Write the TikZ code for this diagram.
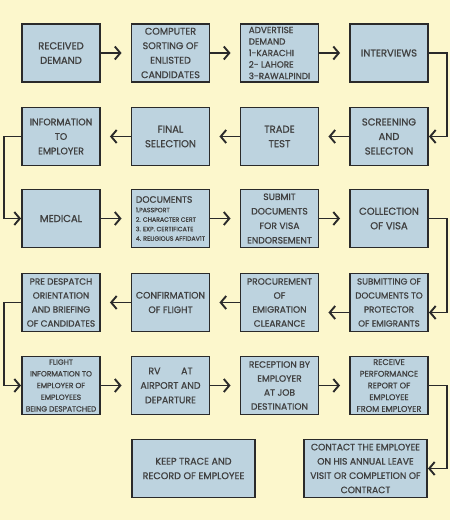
\documentclass[tikz,border=0pt]{standalone}
\usepackage{fontspec}
\setmainfont{Poppins}[FakeBold=0.9]
\usetikzlibrary{arrows.meta}
\definecolor{bgcol}{HTML}{FCF7CC}
\definecolor{boxcol}{HTML}{BDD3DF}
\definecolor{bordercol}{HTML}{2A2A2A}
\definecolor{textcol}{HTML}{404040}
\newcommand{\fs}[2]{\fontsize{#1}{#2}\selectfont}
\begin{document}
\begin{tikzpicture}[x=1pt,y=-1pt,
  box/.style={draw=bordercol, line width=1.9pt, fill=boxcol, minimum width=78pt,
    minimum height=58pt, align=center, inner sep=1pt, text=textcol, font=\fs{10}{14.5}},
  widebox/.style={box, minimum width=123pt},
  arr/.style={draw=bordercol, line width=1.7pt, -{Straight Barb[length=5.5pt,width=13pt,line width=1.9pt]}},
  harr/.style={arr, shorten >=9pt}]
\fill[bgcol] (0,0) rectangle (450,520);
\useasboundingbox (0,0) rectangle (450,520);
\coordinate (r) at (447,0);
\coordinate (l) at (4,0);
% row 1
\node[box] (n11) at (61,53) {RECEIVED\\DEMAND};
\node[box, font=\fs{9.6}{14.5}] (n12) at (170.5,53) {COMPUTER\\SORTING OF\\ENLISTED\\CANDIDATES};
\node[box, align=left, font=\fs{8.8}{11.5}] (n13) at (279.5,53) {ADVERTISE\\DEMAND\\1-KARACHI\\2- LAHORE\\3-RAWALPINDI};
\node[box] (n14) at (389,53) {INTERVIEWS};
% row 2
\node[box, font=\fs{9.4}{14.5}] (n21) at (61,136.5) {INFORMATION\\TO\\EMPLOYER};
\node[box] (n22) at (170.5,136.5) {FINAL\\SELECTION};
\node[box] (n23) at (279.5,136.5) {TRADE\\TEST};
\node[box] (n24) at (389,136.5) {SCREENING\\AND\\SELECTON};
% row 3
\node[box] (n31) at (61,218.5) {MEDICAL};
\node[box, align=left, font=\fs{6.2}{9.5}] (n32) at (170.5,218.5) {{\fs{9.2}{11}DOCUMENTS}\\1.PASSPORT\\2. CHARACTER CERT\\3. EXP. CERTIFICATE\\4. RELIGIOUS AFFIDAV1T};
\node[box, font=\fs{9.2}{14.5}] (n33) at (279.5,218.5) {SUBMIT\\DOCUMENTS\\FOR VISA\\ENDORSEMENT};
\node[box] (n34) at (389,218.5) {COLLECTION\\OF VISA};
% row 4
\node[box, font=\fs{8.9}{14}] (n41) at (61,302.5) {PRE DESPATCH\\ORIENTATION\\AND BRIEFING\\OF CANDIDATES};
\node[box, font=\fs{9.3}{14.5}] (n42) at (170.5,302.5) {CONFIRMATION\\OF FLIGHT};
\node[box, font=\fs{9.1}{14}] (n43) at (279.5,302.5) {PROCUREMENT\\OF\\EMIGRATION\\CLEARANCE};
\node[box, font=\fs{8.7}{14}] (n44) at (389,302.5) {SUBMITTING OF\\DOCUMENTS TO\\PROTECTOR\\OF EMIGRANTS};
% row 5
\node[box, font=\fs{7.5}{11.7}] (n51) at (61,385.5) {FLIGHT\\INFORMATION TO\\EMPLOYER OF\\EMPLOYEES\\BEING DESPATCHED};
\node[box, font=\fs{9.4}{14.5}] (n52) at (170.5,385.5) {RV\hspace{2.2em}AT\\AIRPORT AND\\DEPARTURE};
\node[box, font=\fs{9.1}{14}] (n53) at (279.5,385.5) {RECEPTION BY\\EMPLOYER\\AT JOB\\DESTINATION};
\node[box, font=\fs{8.2}{11.7}] (n54) at (389,385.5) {RECEIVE\\PERFORMANCE\\REPORT OF\\EMPLOYEE\\FROM EMPLOYER};
% row 6
\node[widebox, font=\fs{9.6}{14.5}] (n61) at (193.5,468.5) {KEEP TRACE AND\\RECORD OF EMPLOYEE};
\node[widebox, font=\fs{9.2}{14.3}] (n62) at (365.5,468.5) {CONTACT THE EMPLOYEE\\ON HIS ANNUAL LEAVE\\VISIT OR COMPLETION OF\\CONTRACT};
% connectors
\draw[harr] (n11) -- (n12);
\draw[harr] (n12) -- (n13);
\draw[harr] (n13) -- (n14);
\draw[arr] (n14.east) -- (n14.east -| r) |- (n24.east);
\draw[harr] (n24) -- (n23);
\draw[harr] (n23) -- (n22);
\draw[harr] (n22) -- (n21);
\draw[arr] (n21.west) -- (n21.west -| l) |- (n31.west);
\draw[harr] (n31) -- (n32);
\draw[harr] (n32) -- (n33);
\draw[harr] (n33) -- (n34);
\draw[arr] (n34.east) -- (n34.east -| r) |- ([yshift=-10pt]n44.east);
\draw[harr] ([yshift=-10pt]n44.west) -- ([yshift=-10pt]n43.east);
\draw[harr] (n43) -- (n42);
\draw[harr] (n42) -- (n41);
\draw[arr] (n41.west) -- (n41.west -| l) |- (n51.west);
\draw[harr] (n51) -- (n52);
\draw[harr] (n52) -- (n53);
\draw[harr] (n53) -- (n54);
\draw[arr] (n54.east) -- (n54.east -| r) |- (n62.east);
\end{tikzpicture}
\end{document}
